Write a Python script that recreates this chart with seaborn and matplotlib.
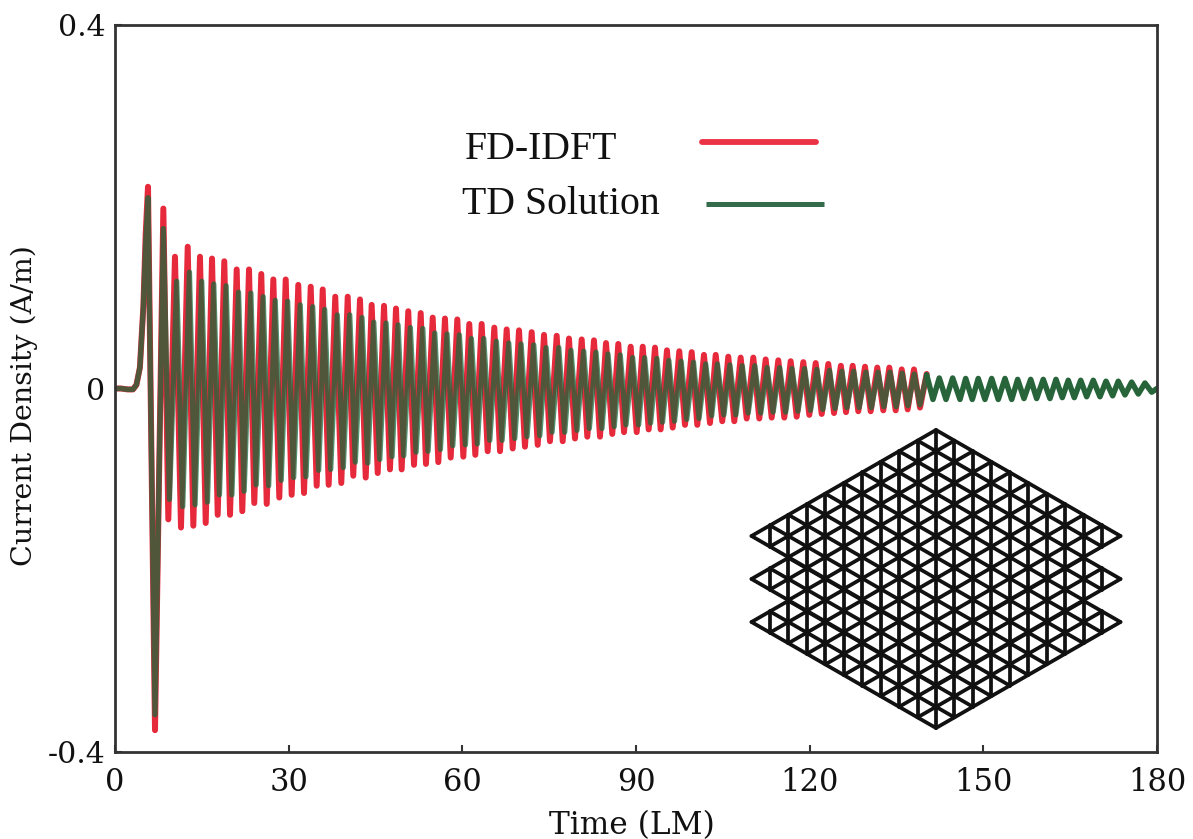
import seaborn as sns
import numpy as np
import matplotlib.pyplot as plt

# start-up pulse
start_t = [0, 1.0, 2.2, 3.1, 3.7, 4.3, 4.9, 5.3, 5.7, 6.91, 8.35]
fd_start = [0, 0, -0.001, -0.001, 0.004, 0.023, 0.09, 0.17, 0.222, -0.376, 0.198]
td_start = [0, 0, -0.001, -0.001, 0.004, 0.023, 0.09, 0.16, 0.21, -0.359, 0.176]

# times of the FD-IDFT maxima and minima (LM)
fd_peak_t = [10.36, 12.56, 14.68, 16.76, 18.88, 21.02, 23.15, 25.27, 27.35, 29.49, 31.66, 33.81, 35.88,
             38.05, 40.20, 42.32, 44.34, 46.47, 48.54, 50.66, 52.81, 54.88, 57.00, 59.13, 61.20, 63.34,
             65.52, 67.66, 69.79, 71.98, 74.11, 76.30, 78.42, 80.62, 82.74, 84.82, 86.94, 89.08, 91.16,
             93.28, 95.35, 97.48, 99.62, 101.74, 103.77, 105.94, 108.08, 110.26, 112.40, 114.58, 116.72,
             118.90, 121.04, 123.22, 125.39, 127.43, 129.56, 131.68, 133.76, 135.90, 138.02, 140.21]
fd_trough_t = [9.21, 11.40, 13.53, 15.67, 17.74, 19.87, 21.99, 24.06, 26.21, 28.38, 30.52, 32.65, 34.84,
               36.91, 39.09, 41.16, 43.31, 45.38, 47.50, 49.52, 51.65, 53.72, 55.85, 57.99, 60.17, 62.24,
               64.38, 66.51, 68.70, 70.82, 73.02, 75.14, 77.34, 79.46, 81.59, 83.78, 85.90, 87.93, 90.12,
               92.19, 94.26, 96.34, 98.46, 100.59, 102.78, 104.90, 106.98, 109.12, 111.30, 113.44, 115.62,
               117.76, 119.94, 122.08, 124.21, 126.28, 128.40, 130.54, 132.72, 134.86, 136.93, 139.06]

# the same for the TD solution, which runs a little behind
td_peak_t = [10.66, 12.86, 14.98, 17.06, 19.2, 21.34, 23.47, 25.6, 27.68, 29.82, 32.0, 34.15, 36.22,
             38.4, 40.55, 42.67, 44.7, 46.83, 48.9, 51.02, 53.17, 55.24, 57.36, 59.49, 61.56, 63.7,
             65.88, 68.02, 70.15, 72.34, 74.47, 76.66, 78.77, 80.97, 83.09, 85.16, 87.28, 89.42, 91.49,
             93.61, 95.67, 97.8, 99.93, 102.04, 104.06, 106.22, 108.35, 110.52, 112.65, 114.82, 116.95,
             119.12, 121.25, 123.42, 125.57, 127.6, 129.71, 131.81, 133.87, 135.98, 138.07, 140.21]
td_trough_t = [9.41, 11.7, 13.83, 15.97, 18.04, 20.19, 22.31, 24.39, 26.54, 28.71, 30.86, 32.99, 35.18,
               37.26, 39.44, 41.51, 43.67, 45.74, 47.86, 49.88, 52.01, 54.08, 56.21, 58.35, 60.53, 62.6,
               64.74, 66.87, 69.06, 71.18, 73.38, 75.5, 77.69, 79.81, 81.94, 84.12, 86.24, 88.27, 90.45,
               92.52, 94.58, 96.65, 98.77, 100.89, 103.07, 105.18, 107.25, 109.38, 111.55, 113.68, 115.85,
               117.98, 120.15, 122.28, 124.39, 126.45, 128.55, 130.67, 132.83, 134.94, 136.98, 139.06]

# FD-IDFT envelope
fd_peak = [.145, .156, .145, .143, .140, .131, .131, .126, .120, .120, .114, .112, .109, .101, .101, .098,
           .092, .091, .088, .085, .083, .078, .077, .076, .071, .071, .067, .065, .064, .062, .059, .058,
           .055, .054, .053, .050, .049, .046, .046, .045, .042, .041, .040, .037, .037, .035, .034, .034,
           .032, .031, .030, .029, .028, .027, .025, .025, .024, .023, .023, .021, .021, .016]
fd_trough = [-.144, -.153, -.151, -.148, -.139, -.139, -.135, -.126, -.127, -.120, -.117, -.115, -.107,
             -.106, -.104, -.096, -.098, -.093, -.089, -.089, -.084, -.083, -.081, -.076, -.075, -.073,
             -.069, -.069, -.066, -.064, -.062, -.058, -.058, -.055, -.053, -.053, -.050, -.048, -.048,
             -.045, -.045, -.043, -.040, -.040, -.038, -.036, -.036, -.033, -.033, -.032, -.032, -.031,
             -.029, -.028, -.027, -.026, -.025, -.025, -.024, -.024, -.023, -.021]

# TD envelope
td_peak = [.118, .128, .118, .115, .113, .106, .105, .101, .097, .096, .092, .090, .087, .081, .081, .078,
           .073, .072, .070, .067, .066, .061, .060, .059, .055, .055, .052, .050, .049, .048, .045, .045,
           .042, .041, .040, .038, .037, .034, .034, .033, .031, .030, .029, .027, .027, .026, .025, .025,
           .023, .023, .022, .022, .021, .020, .019, .019, .018, .018, .018, .017, .016, .015]
td_trough = [-.122, -.130, -.128, -.125, -.117, -.117, -.113, -.106, -.107, -.101, -.098, -.097, -.090,
             -.089, -.087, -.081, -.082, -.078, -.075, -.074, -.070, -.069, -.067, -.063, -.062, -.061,
             -.057, -.057, -.055, -.053, -.052, -.048, -.048, -.046, -.044, -.044, -.042, -.040, -.040,
             -.038, -.037, -.036, -.034, -.033, -.030, -.029, -.029, -.027, -.027, -.026, -.026, -.025,
             -.024, -.023, -.022, -.021, -.021, -.021, -.020, -.020, -.019, -.018]

# TD tail after FD-IDFT stops
tail_trough_t = [141.30, 143.55, 145.97, 148.09, 150.28, 152.58, 154.90, 157.02, 159.21, 161.51, 163.64,
                 165.71, 167.85, 170.15, 172.34, 174.47, 176.77, 179.09]
tail_trough = [-.012, -.012, -.012, -.012, -.012, -.012, -.012, -.011, -.011, -.011, -.010, -.010, -.009,
               -.009, -.008, -.007, -.006, -.004]
tail_peak_t = [142.39, 144.70, 146.95, 149.12, 151.44, 153.74, 155.93, 158.18, 160.35, 162.55, 164.67,
               166.82, 168.99, 171.19, 173.31, 175.62, 177.92]
tail_peak = [.0115, .0115, .011, .011, .011, .011, .010, .010, .010, .010, .009, .009, .009, .008, .008,
             .007, .006]

x_ticks = [0, 30, 60, 90, 120, 150, 180]
y_ticks = [-0.4, 0, 0.4]
y_labels = ['-0.4', '0', '0.4']

RED = '#e62a3c'
GREEN = '#15683a'
TAIL = '#27643a'
INK = '#333333'


def weave(a, b):
    return list(np.column_stack([a, b]).ravel())


fd_t = start_t + weave(fd_trough_t, fd_peak_t)
fd_y = fd_start + weave(fd_trough, fd_peak)
td_t = start_t + weave(td_trough_t, td_peak_t)
td_y = td_start + weave(td_trough, td_peak)
tail_t = [td_peak_t[-1]] + weave(tail_trough_t[:-1], tail_peak_t) + [tail_trough_t[-1], 180]
tail_y = [td_peak[-1]] + weave(tail_trough[:-1], tail_peak) + [tail_trough[-1], 0]

sns.set_style("ticks")
plt.rcParams['font.family'] = ['DejaVu Serif']

fig = plt.figure(figsize=(11.93, 8.39), dpi=100)
ax = fig.add_axes([115 / 1193, 1 - 752 / 839, (1157 - 115) / 1193, (752 - 25) / 839])

line_kw = dict(sort=False, estimator=None, ax=ax, solid_joinstyle='round', solid_capstyle='round')
sns.lineplot(x=fd_t, y=fd_y, color=RED, lw=4.3, **line_kw)
sns.lineplot(x=td_t, y=td_y, color=GREEN, lw=3.8, alpha=0.72, **line_kw)
sns.lineplot(x=tail_t, y=tail_y, color=TAIL, lw=4.0, **line_kw)

ax.set_xlim(0, 180)
ax.set_ylim(-0.4, 0.4)
ax.set_xticks(x_ticks)
ax.set_yticks(y_ticks, y_labels)
ax.tick_params(direction='in', length=5, width=1.5, color=INK, labelcolor='#111111')
ax.tick_params(axis='x', pad=11, labelsize=22)
ax.tick_params(axis='y', pad=7, labelsize=21.5)
for s in ax.spines.values():
    s.set_linewidth(2)
    s.set_color(INK)
ax.set_xlabel("Time (LM)", fontsize=22.5, color='#111111')
ax.set_ylabel("Current Density (A/m)", fontsize=20.5, color='#111111')
ax.xaxis.set_label_coords(0.496, -0.08)
ax.yaxis.set_label_coords(-0.074, 0.477)

# overlay in pixel coordinates for the key and the mesh sketch
over = fig.add_axes([0, 0, 1, 1], facecolor='none')
over.set_xlim(0, 1193)
over.set_ylim(839, 0)
over.axis('off')

over.text(465, 159, "FD-IDFT", family='Liberation Serif', fontsize=28.6, color='#111111')
over.text(462, 214, "TD Solution", family='Liberation Serif', fontsize=28.6, color='#111111')
over.plot([702, 816], [142, 142], color='#ea3344', lw=4.2, solid_capstyle='round')
over.plot([706, 824], [204, 204], color='#336b4b', lw=3.6, solid_capstyle='butt')

n = 10
dx, dy = 18.45, 10.6
mesh = dict(color='#111111', lw=2.7, zorder=3, solid_capstyle='round')
for cy in [622, 579, 536]:
    left = 751.5
    over.fill([left, left + n * dx, left + 2 * n * dx, left + n * dx],
              [cy, cy - n * dy, cy, cy + n * dy], color='white', zorder=3)
    for i in range(n + 1):
        over.plot([left + i * dx, left + i * dx + n * dx], [cy - i * dy, cy - i * dy + n * dy], **mesh)
        over.plot([left + i * dx, left + i * dx + n * dx], [cy + i * dy, cy + i * dy - n * dy], **mesh)
    for k in range(1, 2 * n):
        h = min(k, 2 * n - k) * dy
        over.plot([left + k * dx, left + k * dx], [cy - h, cy + h], **mesh)

fig.savefig('out.png', dpi=100)
